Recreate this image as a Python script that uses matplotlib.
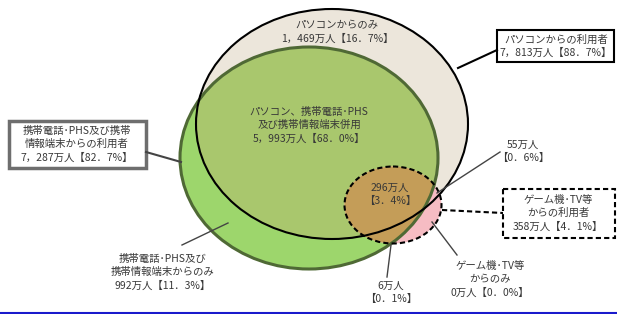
import matplotlib
matplotlib.use("Agg")
from matplotlib import pyplot as plt
from matplotlib.patches import Ellipse, Rectangle

plt.rcParams['font.family'] = ['Noto Sans CJK JP', 'DejaVu Sans']

# region labels and values (万人, %)
pc_only = ("パソコンからのみ", 1469, 16.7)
both = ("パソコン、携帯電話･PHS\n及び携帯情報端末併用", 5993, 68.0)
pc_total = ("パソコンからの利用者", 7813, 88.7)
mobile_total = ("携帯電話･PHS及び携帯\n情報端末からの利用者", 7287, 82.7)
mobile_only = ("携帯電話･PHS及び\n携帯情報端末からのみ", 992, 11.3)
game_all3 = ("", 296, 3.4)
game_pc = ("", 55, 0.6)
game_mobile = ("", 6, 0.1)
game_total = ("ゲーム機･TV等\nからの利用者", 358, 4.1)
game_only = ("ゲーム機･TV等\nからのみ", 0, 0.0)


def fmt(v, p):
    n = f"{v:,}".replace(",", "，")
    return f"{n}万人【{p:.1f}%】".replace(".", "．")


def fmt2(v, p):
    return f"{v}万人\n【{p:.1f}%】".replace(".", "．")


fig = plt.figure(figsize=(6.17, 3.14), dpi=100)
ax = fig.add_axes([0, 0, 1, 1])
ax.set_xlim(0, 617)
ax.set_ylim(314, 0)
ax.axis("off")

# circles (pixel layout)
pc = dict(xy=(332, 124), width=272, height=230)
mob = dict(xy=(309, 158), width=258, height=222)
game = dict(xy=(393, 205), width=97, height=77)

ax.add_patch(Ellipse(**pc, facecolor="#ece6db", edgecolor="none", zorder=1))
ax.add_patch(Ellipse(**mob, facecolor="#9dd66c", edgecolor="none", zorder=2))
clip_pc = Ellipse(**pc, transform=ax.transData)
e = Ellipse(**mob, facecolor="#a9c76d", edgecolor="none", zorder=3)
ax.add_patch(e)
e.set_clip_path(clip_pc)

ax.add_patch(Ellipse(**game, facecolor="#f6bcc3", edgecolor="none", zorder=4))
clip_mob = Ellipse(**mob, transform=ax.transData)
g = Ellipse(**game, facecolor="#c49d58", edgecolor="none", zorder=5)
ax.add_patch(g)
g.set_clip_path(clip_mob)

ax.add_patch(Ellipse(**mob, facecolor="none", edgecolor="#4f6935", lw=2.2, zorder=6))
ax.add_patch(Ellipse(**pc, facecolor="none", edgecolor="black", lw=1.5, zorder=7))
ax.add_patch(Ellipse(**game, facecolor="none", edgecolor="black", lw=1.5,
                     linestyle=(0, (2.5, 1.5)), zorder=8))

tc = "#383838"
fs = 7.5
kw = dict(ha="center", va="center", color=tc, fontsize=fs, linespacing=1.4, zorder=10)

# inside labels
ax.text(337, 32, pc_only[0] + "\n" + fmt(pc_only[1], pc_only[2]), **kw)
ax.text(309, 125, both[0] + "\n" + fmt(both[1], both[2]), **kw)
ax.text(390, 194, fmt2(game_all3[1], game_all3[2]), **kw)

# boxes
ax.add_patch(Rectangle((497, 30), 117, 32, facecolor="white", edgecolor="black", lw=1.5, zorder=9))
ax.text(556, 46, pc_total[0] + "\n" + fmt(pc_total[1], pc_total[2]), **kw)
ax.plot([497, 458], [50, 68], color="black", lw=1.5, zorder=9)

ax.add_patch(Rectangle((9, 121), 137, 47, facecolor="white", edgecolor="#6e6e6e", lw=2.5, zorder=9))
ax.text(77, 144, mobile_total[0] + "\n" + fmt(mobile_total[1], mobile_total[2]), **kw)
ax.plot([146, 181], [152, 162], color="#444444", lw=1.5, zorder=9)

ax.add_patch(Rectangle((503, 189), 112, 49, facecolor="white", edgecolor="black", lw=1.5,
                       linestyle=(0, (2.5, 1.5)), zorder=9))
ax.text(558, 213, game_total[0] + "\n" + fmt(game_total[1], game_total[2]), **kw)
ax.plot([442, 503], [210, 213], color="black", lw=1.5, linestyle=(0, (2.5, 1.5)), zorder=9)

# outside labels
ax.text(163, 272, mobile_only[0] + "\n" + fmt(mobile_only[1], mobile_only[2]), **kw)
ax.plot([182, 228], [245, 223], color="#444444", lw=1, zorder=9)

ax.text(523, 151, fmt2(game_pc[1], game_pc[2]), **kw)
ax.plot([500, 437], [152, 193], color="#444444", lw=1, zorder=9)

ax.text(490, 279, game_only[0] + "\n" + fmt(game_only[1], game_only[2]), **kw)
ax.plot([432, 457], [222, 255], color="#444444", lw=1, zorder=9)

ax.text(391, 292, fmt2(game_mobile[1], game_mobile[2]), **kw)
ax.plot([391, 387], [245, 277], color="#444444", lw=1, zorder=9)

# blue rule at bottom
ax.plot([0, 617], [312.5, 312.5], color="#1a1acc", lw=1.5, zorder=9)

fig.savefig("out.png", dpi=100)
